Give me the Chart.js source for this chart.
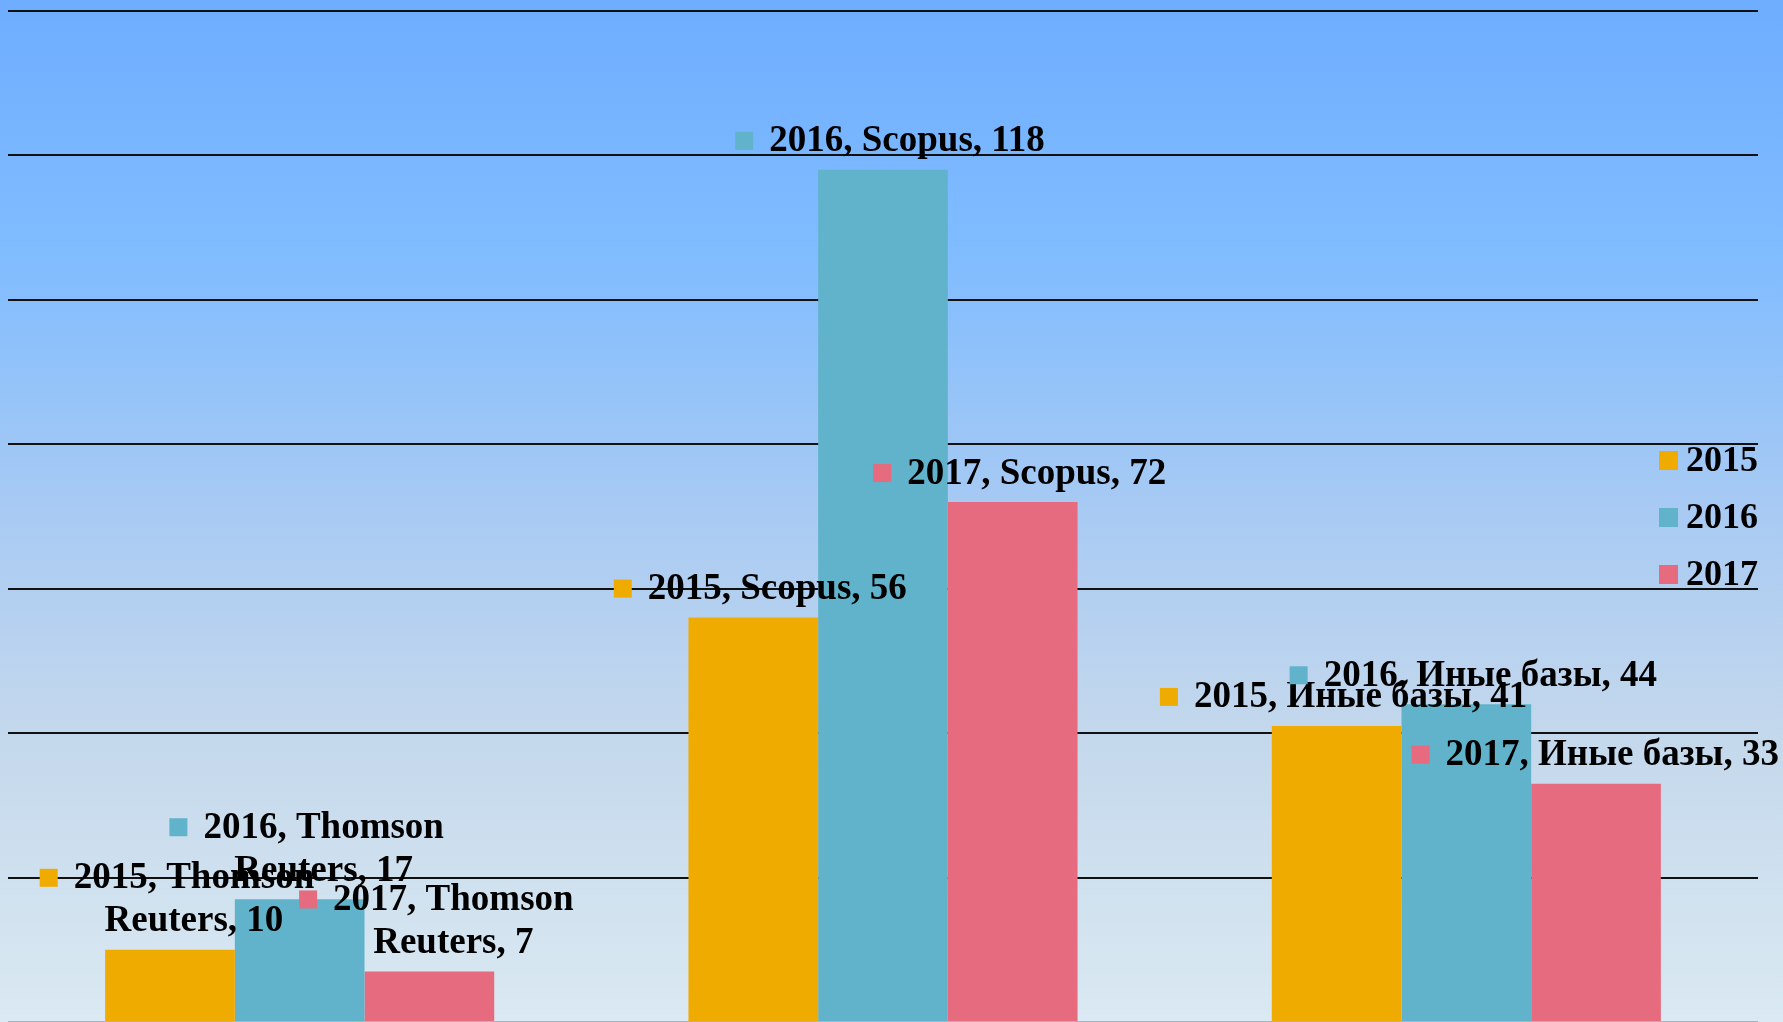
<!DOCTYPE html>
<html>
<head>
<meta charset="utf-8">
<script src="https://cdn.jsdelivr.net/npm/chart.js@4"></script>
<style>
  html, body { margin: 0; padding: 0; }
  #wrap { width: 1783px; height: 1022px; }
</style>
</head>
<body>
<div id="wrap"><canvas id="myChart"></canvas></div>
<script>
const categories = ["Thomson Reuters", "Scopus", "Иные базы"];
const years = ["2015", "2016", "2017"];
const values2015 = [10, 56, 41];
const values2016 = [17, 118, 44];
const values2017 = [7, 72, 33];
const colors = ["#F0AB00", "#60B3CB", "#E66B7E"];

const labelFont = "bold 37px 'Liberation Serif'";

// wrap a label's words so no line is wider than maxW
function wrapLabel(ctx, text, maxW) {
  const words = text.split(" ");
  const lines = [];
  let cur = "";
  words.forEach(w => {
    const test = cur ? cur + " " + w : w;
    if (cur && ctx.measureText(test).width > maxW) {
      lines.push(cur);
      cur = w;
    } else {
      cur = test;
    }
  });
  lines.push(cur);
  return lines;
}

const background = {
  id: "background",
  beforeDraw(chart) {
    const ctx = chart.ctx;
    const g = ctx.createLinearGradient(0, 0, 0, chart.height);
    g.addColorStop(0, "#6EADFF");
    g.addColorStop(0.25, "#80BCFF");
    g.addColorStop(0.5, "#A8CAF3");
    g.addColorStop(0.72, "#C4D8EC");
    g.addColorStop(1, "#DAE9F2");
    ctx.save();
    ctx.fillStyle = g;
    ctx.fillRect(0, 0, chart.width, chart.height);
    ctx.restore();
  }
};

const barLabels = {
  id: "barLabels",
  afterDatasetsDraw(chart) {
    const ctx = chart.ctx;
    ctx.save();
    ctx.font = labelFont;
    ctx.textBaseline = "middle";
    ctx.textAlign = "center";
    chart.data.datasets.forEach((ds, i) => {
      const meta = chart.getDatasetMeta(i);
      meta.data.forEach((bar, j) => {
        const text = ds.label + ", " + categories[j] + ", " + ds.data[j];
        const lines = wrapLabel(ctx, text, 345);
        const textW = Math.max(...lines.map(l => ctx.measureText(l).width));
        const box = 18, gap = 16, lh = 43;
        let left = bar.x - (box + gap + textW) / 2 + 7;
        if (left + box + gap + textW > chart.width - 4) left = chart.width - 4 - (box + gap + textW);
        const textCx = left + box + gap + textW / 2;
        const lastY = bar.y - 28;
        const firstY = lastY - (lines.length - 1) * lh;
        ctx.fillStyle = ds.backgroundColor;
        ctx.fillRect(left, firstY - 10, box, box);
        ctx.fillStyle = "#000";
        lines.forEach((l, k) => ctx.fillText(l, textCx, firstY + k * lh));
      });
    });
    ctx.restore();
  }
};

const sideLegend = {
  id: "sideLegend",
  afterDraw(chart) {
    const ctx = chart.ctx;
    ctx.save();
    ctx.font = "bold 36px 'Liberation Serif'";
    ctx.textBaseline = "middle";
    ctx.textAlign = "left";
    chart.data.datasets.forEach((ds, i) => {
      const y = 461 + i * 57;
      ctx.fillStyle = ds.backgroundColor;
      ctx.fillRect(1659, y - 10, 19, 19);
      ctx.fillStyle = "#000";
      ctx.fillText(ds.label, 1686, y + 1);
    });
    ctx.restore();
  }
};

new Chart("myChart", {
  type: "bar",
  data: {
    labels: categories,
    datasets: [
      { label: years[0], data: values2015, backgroundColor: colors[0] },
      { label: years[1], data: values2016, backgroundColor: colors[1] },
      { label: years[2], data: values2017, backgroundColor: colors[2] }
    ]
  },
  options: {
    responsive: true,
    maintainAspectRatio: false,
    animation: false,
    layout: { padding: { left: 8, right: 25, top: 11, bottom: 0 } },
    datasets: {
      bar: {
        categoryPercentage: 0.667,
        barPercentage: 1.0,
        borderWidth: 0
      }
    },
    plugins: {
      legend: { display: false },
      tooltip: { enabled: false }
    },
    scales: {
      x: { display: false },
      y: {
        min: 0,
        max: 140,
        ticks: { display: false, stepSize: 20 },
        border: { display: false },
        grid: {
          drawTicks: false,
          lineWidth: 2,
          color: ctx => ctx.tick && ctx.tick.value === 0 ? "#A8B4BE" : "#111111"
        }
      }
    }
  },
  plugins: [background, barLabels, sideLegend]
});
</script>
</body>
</html>
